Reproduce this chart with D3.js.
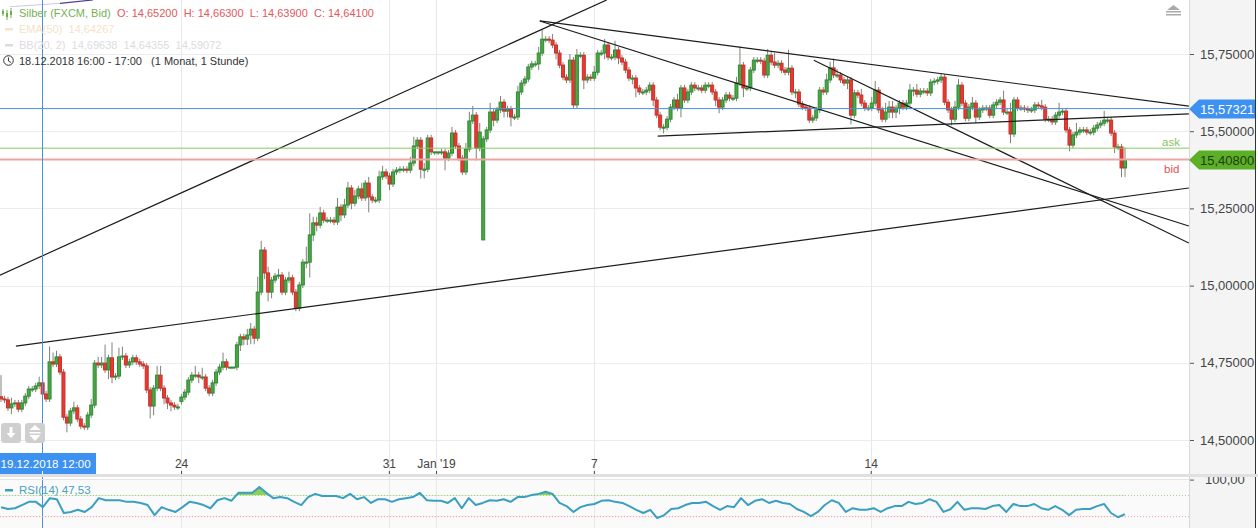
<!DOCTYPE html>
<html>
<head>
<meta charset="utf-8">
<script src="https://cdn.jsdelivr.net/npm/d3@7"></script>
<style>
  html, body { margin: 0; padding: 0; background: #fff; overflow: hidden; }
  svg { display: block; font-family: "Liberation Sans", Arial, sans-serif; }
</style>
</head>
<body>
<svg id="chart" width="1258" height="528"></svg>
<script>
// closing prices, one row = 10 candles
const closes = [
  14.633,14.630,14.604,14.617,14.620,14.600,14.620,14.642,14.665,14.665,
  14.675,14.685,14.649,14.633,14.753,14.746,14.769,14.720,14.574,14.555,
  14.594,14.604,14.568,14.545,14.542,14.581,14.613,14.749,14.743,14.749,
  14.727,14.766,14.704,14.707,14.769,14.772,14.743,14.753,14.766,14.753,
  14.746,14.740,14.662,14.610,14.668,14.710,14.668,14.636,14.620,14.613,
  14.607,14.607,14.639,14.655,14.694,14.710,14.710,14.704,14.704,14.668,
  14.652,14.685,14.720,14.736,14.753,14.736,14.736,14.736,14.808,14.834,
  14.827,14.840,14.859,14.830,14.979,15.115,15.041,14.979,15.018,15.031,
  15.034,14.979,15.018,15.025,14.979,14.927,15.002,15.076,15.076,15.164,
  15.203,15.196,15.235,15.212,15.212,15.212,15.206,15.254,15.229,15.261,
  15.316,15.267,15.290,15.313,15.284,15.332,15.287,15.277,15.277,15.352,
  15.368,15.355,15.329,15.368,15.374,15.377,15.377,15.374,15.397,15.452,
  15.471,15.377,15.377,15.478,15.433,15.433,15.433,15.433,15.413,15.429,
  15.494,15.452,15.413,15.368,15.442,15.533,15.552,15.445,15.497,15.475,
  15.504,15.562,15.536,15.569,15.594,15.565,15.572,15.546,15.546,15.627,
  15.656,15.669,15.708,15.718,15.718,15.753,15.798,15.798,15.795,15.779,
  15.753,15.714,15.675,15.666,15.730,15.585,15.746,15.746,15.666,15.675,
  15.672,15.691,15.753,15.753,15.779,15.740,15.740,15.763,15.737,15.724,
  15.698,15.672,15.672,15.640,15.627,15.627,15.633,15.649,15.601,15.552,
  15.513,15.513,15.539,15.578,15.601,15.575,15.640,15.601,15.627,15.649,
  15.640,15.640,15.633,15.649,15.649,15.627,15.601,15.578,15.601,15.617,
  15.607,15.607,15.656,15.714,15.640,15.640,15.698,15.730,15.730,15.727,
  15.682,15.746,15.724,15.714,15.720,15.698,15.691,15.704,15.627,15.627,
  15.588,15.578,15.575,15.536,15.543,15.569,15.633,15.627,15.666,15.705,
  15.682,15.682,15.666,15.656,15.666,15.552,15.624,15.617,15.591,15.575,
  15.575,15.591,15.633,15.569,15.539,15.562,15.578,15.562,15.575,15.591,
  15.578,15.591,15.633,15.633,15.620,15.630,15.630,15.624,15.659,15.662,
  15.666,15.675,15.594,15.569,15.539,15.578,15.649,15.591,15.542,15.578,
  15.591,15.546,15.569,15.575,15.575,15.552,15.585,15.594,15.601,15.562,
  15.562,15.491,15.601,15.575,15.575,15.572,15.569,15.569,15.585,15.582,
  15.578,15.539,15.539,15.530,15.552,15.562,15.565,15.504,15.455,15.488,
  15.497,15.504,15.504,15.497,15.497,15.510,15.520,15.526,15.536,15.536,
  15.494,15.449,15.449,15.381,15.407
];
// each candle opens where the last one closed, except these gaps
const openGaps = { 0: 14.640, 52: 14.625, 139: 15.148 };
const upperWicks = [
  .07,.01,.01,.02,.01,.01,.01,.01,.01,.01,
  .01,.02,.01,.01,.05,.03,.02,.01,.01,.01,
  .01,.02,.01,.01,.01,.01,.02,.01,.02,.02,
  .06,.01,.05,.01,.03,.03,.01,.01,.01,.01,
  .01,.01,.01,.01,.01,.03,.03,.01,.01,.01,
  .01,.01,.01,.01,.01,.01,.03,.01,.03,.01,
  .01,.01,.01,.01,.03,.01,0,0,.01,.01,
  .01,.02,.02,.01,.05,.03,.01,.02,.01,.01,
  .02,.01,.01,.02,.01,.01,.01,.01,.05,.07,
  .02,.02,.02,.01,.01,.01,.01,.03,.01,.02,
  .02,.01,.02,.01,.02,.01,.02,.01,.01,.02,
  .02,.01,.01,.01,.01,.01,.01,.01,.02,.03,
  .01,.01,.02,.01,.01,0,0,.01,.01,.01,
  .02,.01,.01,.01,.02,.03,.03,.01,.03,.01,
  .01,.03,.01,.01,.02,.01,.01,.01,.01,.02,
  .01,.01,.01,.01,.01,.02,.03,.01,.01,.02,
  .01,.01,.01,.01,.02,.01,.02,.01,.01,.01,
  .01,.02,.01,.01,.02,.01,.01,.03,.01,.01,
  .01,.01,.01,.01,.01,.01,.01,.01,.01,.01,
  .01,.01,.01,.01,.01,.02,.01,.01,.01,.01,
  .01,.01,.01,.01,.01,.01,.01,.01,.01,.01,
  .01,.01,.02,.06,.01,.01,.01,.01,.01,.01,
  .01,.02,.01,.03,.01,.01,.01,.06,.01,.01,
  .01,.01,.01,.01,.01,.01,.01,.01,.02,.02,
  .03,.02,.01,.01,.01,.01,.01,.01,.02,.01,
  .01,.02,.03,.01,.01,.03,.02,.02,.01,.01,
  .01,.01,.02,.01,.02,.01,.01,.01,.01,.01,
  .01,.01,.01,.01,.01,.02,.02,.01,.01,.01,
  .02,.01,.01,.01,.01,.01,.01,.01,.01,.03,
  .01,.03,.01,.01,.01,.01,.01,.01,.01,.01,
  .02,.01,.01,.01,.01,.03,.01,.01,.01,.01,
  .03,.01,.01,.01,.01,.01,.01,.01,.03,.01,
  .01,.01,.01,.01,.04
];
const lowerWicks = [
  .01,.01,.01,.02,.01,.01,.01,.01,.01,.01,
  .01,.01,.01,.01,.01,.01,.01,.01,.01,.03,
  .01,.01,.01,.01,.01,.01,.01,.01,.01,.01,
  .01,.03,.02,.01,.01,.01,.01,.01,.01,.01,
  .01,.01,.01,.04,.03,.01,.01,.02,.02,.02,
  .01,.01,.01,.01,.01,.01,.01,.02,.01,.01,
  .01,.01,.01,.01,.01,.01,0,0,.01,.02,
  .02,.02,.03,.02,.01,.01,.02,.03,.02,.01,
  .01,.01,.01,.01,.01,.01,.01,.01,.02,.05,
  .02,.02,.01,.01,.01,.01,.01,.01,.02,.01,
  .01,.02,.01,.01,.01,.01,.05,.01,.01,.01,
  .01,.01,.02,.01,.01,.01,.01,.01,.01,.01,
  .01,.03,.03,.01,.01,.01,.01,.01,.04,.01,
  .01,.01,.01,.01,.01,.01,.01,.04,.01,0,
  .01,.01,.02,.01,.01,.02,.02,.03,.01,.01,
  .01,.01,.01,.01,.01,.02,.01,.01,.01,.01,
  .02,.01,.01,.01,.01,.01,.01,.01,.03,.01,
  .01,.01,.01,.01,.02,.01,.01,.01,.02,.01,
  .01,.01,.02,.03,.01,.01,.01,.01,.02,.01,
  .01,.02,.01,.01,.01,.01,.03,.01,.01,.01,
  .01,.01,.01,.01,.01,.01,.02,.02,.01,.01,
  .01,.01,.01,.01,.03,.01,.01,.01,.01,.01,
  .01,.01,.01,.01,.01,.01,.01,.01,.01,.02,
  .01,.01,.01,.01,.01,.01,.01,.01,.01,.01,
  .01,.01,.01,.01,.02,.03,.01,.01,.01,.01,
  .01,.01,.01,.01,.01,.01,.02,.02,.02,.02,
  .01,.01,.01,.02,.01,.01,.01,.01,.01,.01,
  .01,.01,.01,.01,.02,.01,.01,.01,.01,.01,
  .01,.02,.01,.01,.01,.01,.01,.01,.01,.01,
  .01,.03,.01,.01,.01,.01,.01,.01,.01,.01,
  .01,.01,.01,.01,.01,.01,.01,.01,.02,.01,
  .01,.01,.01,.01,.01,.01,.01,.01,.01,.01,
  .01,.02,.01,.03,.03
];

// RSI(14), read about every second candle
const rsiValues = [
  48,44.5,46,52,58,58,48,65,63,37,39,43,39,48,65,61,61,61,58,58,
  56,52,33,48,43,39,48,58,56,52,46,61,65,60,75,75,75,86,75,65,
  67,65,58,52,67,73,69,69,69,65,73,63,67,56,63,63,58,63,65,67,
  75,61,60,60,56,65,46,65,52,56,61,60,63,58,67,67,71,73,77,73,
  56,50,39,48,52,54,60,61,58,56,50,43,37,43,27.5,33,44.5,46,52,56,
  56,58,50,43,50,48,65,52,60,63,56,60,56,54,44.5,39,31,39,52,61,
  56,39,46,43,43,46,39,46,50,50,58,54,56,63,58,39,44,58,43,46,
  46,44.5,50,52,39,54,50,50,54,46,43,50,43,33,43,44.5,44.5,50,54,37,
  29,35
];

const priceTicks = [14.5, 14.75, 15, 15.25, 15.5, 15.75];
// tick positions in candle numbers
const dateTicks = [51.9, 111.8, 125.4, 170.9, 250.7];
const dateLabels = ["24", "31", "Jan '19", "7", "14"];

// drawn lines: [candle, price, candle, price]
const trendLines = [
  [-0.3, 15.034, 174.6, 15.925],
  [4.3, 14.804, 342.4, 15.316],
  [155.3, 15.857, 342.4, 15.581],
  [155.3, 15.857, 342.4, 15.193],
  [234.3, 15.730, 342.4, 15.138],
  [189.3, 15.484, 342.4, 15.556]
];

const lastPrice = 15.57321;
const askPrice = 15.445;
const bidPrice = 15.408;

const svg = d3.select("#chart");
const plotRight = 1189;

const x = d3.scaleLinear().domain([0, 324]).range([1, 1125]);
const y = d3.scaleLinear().domain([14.5, 15.75]).range([440, 54]);
const yRsi = d3.scaleLinear().domain([0, 100]).range([532.6, 479.6]);
const comma = d3.formatLocale({ decimal: ",", thousands: ".", grouping: [3], currency: ["", ""] });

// backgrounds
svg.append("rect").attr("x", plotRight).attr("y", 0).attr("width", 66).attr("height", 528).attr("fill", "#f4f4f4");
svg.append("rect").attr("x", 1255).attr("y", 0).attr("width", 1).attr("height", 528).attr("fill", "#333");
svg.append("rect").attr("x", 0).attr("y", 479).attr("width", plotRight).attr("height", 49).attr("fill", "#fafafa");

svg.append("clipPath").attr("id", "plot").append("rect")
  .attr("x", 0).attr("y", 0).attr("width", plotRight).attr("height", 474);

// grid
svg.append("g").selectAll("line").data(priceTicks).join("line")
  .attr("x1", 0).attr("x2", plotRight)
  .attr("y1", d => Math.round(y(d)) + .5).attr("y2", d => Math.round(y(d)) + .5)
  .attr("stroke", "#ececec");
svg.append("g").selectAll("line").data(dateTicks).join("line")
  .attr("x1", d => Math.round(x(d)) + .5).attr("x2", d => Math.round(x(d)) + .5)
  .attr("y1", 0).attr("y2", 528)
  .attr("stroke", "#e8e8e8");

// candles
const candles = closes.map((c, i) => {
  const o = openGaps[i] !== undefined ? openGaps[i] : closes[i - 1];
  return { i: i, o: o, c: c, h: Math.max(o, c) + upperWicks[i], l: Math.min(o, c) - lowerWicks[i] };
});

const chart = svg.append("g").attr("clip-path", "url(#plot)");

chart.append("g").selectAll("line").data(candles).join("line")
  .attr("x1", d => x(d.i)).attr("x2", d => x(d.i))
  .attr("y1", d => y(d.h)).attr("y2", d => y(d.l))
  .attr("stroke", "#80807a").attr("stroke-width", 1);

chart.append("g").selectAll("rect").data(candles).join("rect")
  .attr("x", d => x(d.i) - 1.5)
  .attr("width", 3)
  .attr("y", d => y(Math.max(d.o, d.c)))
  .attr("height", d => Math.max(1, Math.abs(y(d.o) - y(d.c))))
  .attr("fill", d => d.c >= d.o ? "#4ca648" : "#e8382f")
  .attr("stroke", d => d.c >= d.o ? "#2f8a32" : "#c8322b")
  .attr("stroke-width", 1);

// price lines
svg.append("line").attr("x1", 0).attr("x2", plotRight).attr("y1", y(lastPrice)).attr("y2", y(lastPrice))
  .attr("stroke", "#4a90d9").attr("stroke-width", 1);
svg.append("line").attr("x1", 0).attr("x2", plotRight).attr("y1", y(askPrice)).attr("y2", y(askPrice))
  .attr("stroke", "#88c860").attr("stroke-width", 1);
svg.append("line").attr("x1", 0).attr("x2", plotRight).attr("y1", y(bidPrice)).attr("y2", y(bidPrice))
  .attr("stroke", "#eda4a4").attr("stroke-width", 2);

// trend lines
chart.append("g").selectAll("line").data(trendLines).join("line")
  .attr("x1", d => x(d[0])).attr("y1", d => y(d[1]))
  .attr("x2", d => x(d[2])).attr("y2", d => y(d[3]))
  .attr("stroke", "#1c1c1c").attr("stroke-width", 1.2);

// bit of a drawn line at the very top left
svg.append("line").attr("x1", x(2.5)).attr("y1", y(15.903)).attr("x2", x(17)).attr("y2", y(15.914))
  .attr("stroke", "#cfc8e4").attr("stroke-width", 1);
svg.append("line").attr("x1", x(17)).attr("y1", y(15.914)).attr("x2", x(26.5)).attr("y2", y(15.925))
  .attr("stroke", "#4b3a8f").attr("stroke-width", 1.2);

// crosshair
svg.append("line").attr("x1", 42.5).attr("x2", 42.5).attr("y1", 0).attr("y2", 528)
  .attr("stroke", "#4a90d9").attr("stroke-width", 1);

// right axis
const axisG = svg.append("g").attr("transform", "translate(" + plotRight + ",0)")
  .call(d3.axisRight(y).tickValues(priceTicks).tickSize(5).tickPadding(6).tickFormat(comma.format(".5f")));
axisG.select(".domain").remove();
axisG.selectAll("line").attr("stroke", "#555");
axisG.selectAll("text").attr("font-size", 13).attr("font-family", "Liberation Sans").attr("fill", "#444");

// axis edge
svg.append("line").attr("x1", plotRight + .5).attr("x2", plotRight + .5).attr("y1", 0).attr("y2", 528).attr("stroke", "#d8d8d8");

// price tags
function tag(price, fill, textFill, label) {
  const cy = Math.round(y(price));
  const path = d3.path();
  path.moveTo(plotRight, cy);
  path.lineTo(plotRight + 10, cy - 9.5);
  path.lineTo(1255, cy - 9.5);
  path.lineTo(1255, cy + 9.5);
  path.lineTo(plotRight + 10, cy + 9.5);
  path.closePath();
  svg.append("path").attr("d", path.toString()).attr("fill", fill);
  svg.append("text").attr("x", 1200).attr("y", cy + 5).attr("font-size", 13)
    .attr("fill", textFill).text(label);
}
tag(lastPrice, "#3d91f0", "#fff", comma.format(".5f")(lastPrice));
tag(bidPrice, "#5cb027", "#1e3a10", comma.format(".5f")(bidPrice));

svg.append("text").attr("x", 1162).attr("y", 146).attr("font-size", 11.5).attr("fill", "#8cbf6a").text("ask");
svg.append("text").attr("x", 1164).attr("y", 173).attr("font-size", 11.5).attr("fill", "#e4505a").text("bid");

// collapse arrow top right
svg.append("path").attr("d", "M1167 10L1173.5 5L1180 10Z").attr("fill", "#aaa");
svg.append("rect").attr("x", 1166).attr("y", 11).attr("width", 15).attr("height", 1.5).attr("fill", "#aaa");
svg.append("rect").attr("x", 1166).attr("y", 14).attr("width", 15).attr("height", 1.5).attr("fill", "#aaa");

// buttons bottom left
svg.append("rect").attr("x", 1).attr("y", 423).attr("width", 20).attr("height", 20).attr("rx", 3).attr("fill", "#cfcfcf");
svg.append("rect").attr("x", 25).attr("y", 423).attr("width", 20).attr("height", 20).attr("rx", 3).attr("fill", "#cfcfcf");
svg.append("path").attr("d", "M9.5 427H12.5V433H15.5L11 438L6.5 433H9.5Z").attr("fill", "#fff");
svg.append("path").attr("d", "M35 425L40.5 430H29.5ZM29.5 432H40.5V433.5H29.5ZM29.5 435H40.5L35 441Z").attr("fill", "#fff");

// date strip
svg.append("rect").attr("x", 0).attr("y", 474).attr("width", 1258).attr("height", 3).attr("fill", "#e0e0e0");
svg.append("rect").attr("x", 0).attr("y", 479).attr("width", plotRight).attr("height", 1).attr("fill", "#e4e4e4");

const dateAxis = d3.axisTop(x).tickValues(dateTicks).tickSize(3).tickPadding(3)
  .tickFormat((d, i) => dateLabels[i]);
const dateG = svg.append("g").attr("transform", "translate(0,474)").call(dateAxis);
dateG.select(".domain").remove();
dateG.selectAll("line").attr("stroke", "#444");
dateG.selectAll("text").attr("font-size", 12).attr("font-family", "Liberation Sans").attr("fill", "#444");

svg.append("rect").attr("x", 0).attr("y", 453).attr("width", 96).attr("height", 21).attr("fill", "#3d91f0");
svg.append("text").attr("x", 0.5).attr("y", 468).attr("font-size", 11.6)
  .attr("fill", "#fff").text("19.12.2018 12:00");
svg.append("line").attr("x1", 42.5).attr("x2", 42.5).attr("y1", 471).attr("y2", 474).attr("stroke", "#fff");

// RSI panel
const rsiX = k => x(k * 324 / (rsiValues.length - 1));
svg.append("line").attr("x1", 0).attr("x2", plotRight).attr("y1", yRsi(70)).attr("y2", yRsi(70))
  .attr("stroke", "#a6d48a").attr("stroke-dasharray", "1,2");
svg.append("line").attr("x1", 0).attr("x2", plotRight).attr("y1", yRsi(30)).attr("y2", yRsi(30))
  .attr("stroke", "#eda4a4").attr("stroke-dasharray", "1,2");

svg.append("clipPath").attr("id", "overbought").append("rect")
  .attr("x", 0).attr("y", 479).attr("width", plotRight).attr("height", yRsi(70) - 479);
svg.append("clipPath").attr("id", "oversold").append("rect")
  .attr("x", 0).attr("y", yRsi(30)).attr("width", plotRight).attr("height", 528 - yRsi(30));

svg.append("path").attr("clip-path", "url(#overbought)")
  .attr("d", d3.area().x((d, k) => rsiX(k)).y0(yRsi(70)).y1(d => yRsi(d))(rsiValues))
  .attr("fill", "#8ccf5a");
svg.append("path").attr("clip-path", "url(#oversold)")
  .attr("d", d3.area().x((d, k) => rsiX(k)).y0(yRsi(30)).y1(d => yRsi(d))(rsiValues))
  .attr("fill", "#ee9a9a");
svg.append("path")
  .attr("d", d3.line().x((d, k) => rsiX(k)).y(d => yRsi(d))(rsiValues))
  .attr("fill", "none").attr("stroke", "#3a9fc0").attr("stroke-width", 2).attr("stroke-linejoin", "round");

svg.append("rect").attr("x", 5).attr("y", 489).attr("width", 8).attr("height", 2.5).attr("fill", "#3a9fc0");
svg.append("text").attr("x", 19).attr("y", 494).attr("font-size", 11.5).attr("fill", "#4b9fbe").text("RSI(14)  47,53");

// RSI scale, both labels run off their strip
svg.append("rect").attr("x", plotRight).attr("y", 477).attr("width", 66).attr("height", 51).attr("fill", "#f4f4f4");
svg.append("clipPath").attr("id", "rsiAxis").append("rect")
  .attr("x", plotRight).attr("y", 477).attr("width", 66).attr("height", 51);
const rsiAxisG = svg.append("g").attr("clip-path", "url(#rsiAxis)")
  .append("g").attr("transform", "translate(" + plotRight + ",0)")
  .call(d3.axisRight(yRsi).tickValues([0, 100]).tickSize(5).tickPadding(11).tickFormat(comma.format(".2f")));
rsiAxisG.select(".domain").remove();
rsiAxisG.selectAll("line").attr("stroke", "#555");
rsiAxisG.selectAll("text").attr("font-size", 13).attr("font-family", "Liberation Sans").attr("fill", "#444");
svg.append("line").attr("x1", plotRight + .5).attr("x2", plotRight + .5).attr("y1", 477).attr("y2", 528).attr("stroke", "#d8d8d8");
svg.append("rect").attr("x", 1255).attr("y", 477).attr("width", 1).attr("height", 51).attr("fill", "#333");

// legend top left
const legend = svg.append("g").attr("font-size", 11);
legend.append("path")
  .attr("d", "M3 9V16M7 10V20M11 8V18")
  .attr("stroke", "#6ab04c").attr("fill", "none").attr("stroke-width", 1);
legend.append("rect").attr("x", 2).attr("y", 11).attr("width", 2).attr("height", 3).attr("fill", "#6ab04c");
legend.append("rect").attr("x", 6).attr("y", 13).attr("width", 2).attr("height", 4).attr("fill", "#6ab04c");
legend.append("rect").attr("x", 10).attr("y", 11).attr("width", 2).attr("height", 4).attr("fill", "#6ab04c");
legend.append("text").attr("x", 19).attr("y", 17).attr("fill", "#73b155").text("Silber (FXCM, Bid)");
legend.append("text").attr("x", 117).attr("y", 17).attr("fill", "#e5575b").attr("xml:space", "preserve")
  .text("O: 14,65200  H: 14,66300  L: 14,63900  C: 14,64100");

legend.append("rect").attr("x", 5).attr("y", 28).attr("width", 8).attr("height", 2.5).attr("fill", "#f7e3c8");
legend.append("text").attr("x", 19).attr("y", 33).attr("fill", "#f5e3cc").attr("xml:space", "preserve").text("EMA(50)  14,64267");

legend.append("rect").attr("x", 5).attr("y", 44).attr("width", 8).attr("height", 2.5).attr("fill", "#dcdcdc");
legend.append("text").attr("x", 19).attr("y", 49).attr("fill", "#dcdce0").attr("xml:space", "preserve").text("BB(20, 2)  14,69638  14,64355  14,59072");

legend.append("circle").attr("cx", 8.5).attr("cy", 60.5).attr("r", 4.8).attr("fill", "none").attr("stroke", "#333").attr("stroke-width", 1);
legend.append("path").attr("d", "M8.5 57.5V61L11 62.5").attr("fill", "none").attr("stroke", "#333").attr("stroke-width", 1);
legend.append("text").attr("x", 19).attr("y", 65).attr("fill", "#333").attr("xml:space", "preserve")
  .text("18.12.2018 16:00 - 17:00   (1 Monat, 1 Stunde)");
</script>
</body>
</html>
